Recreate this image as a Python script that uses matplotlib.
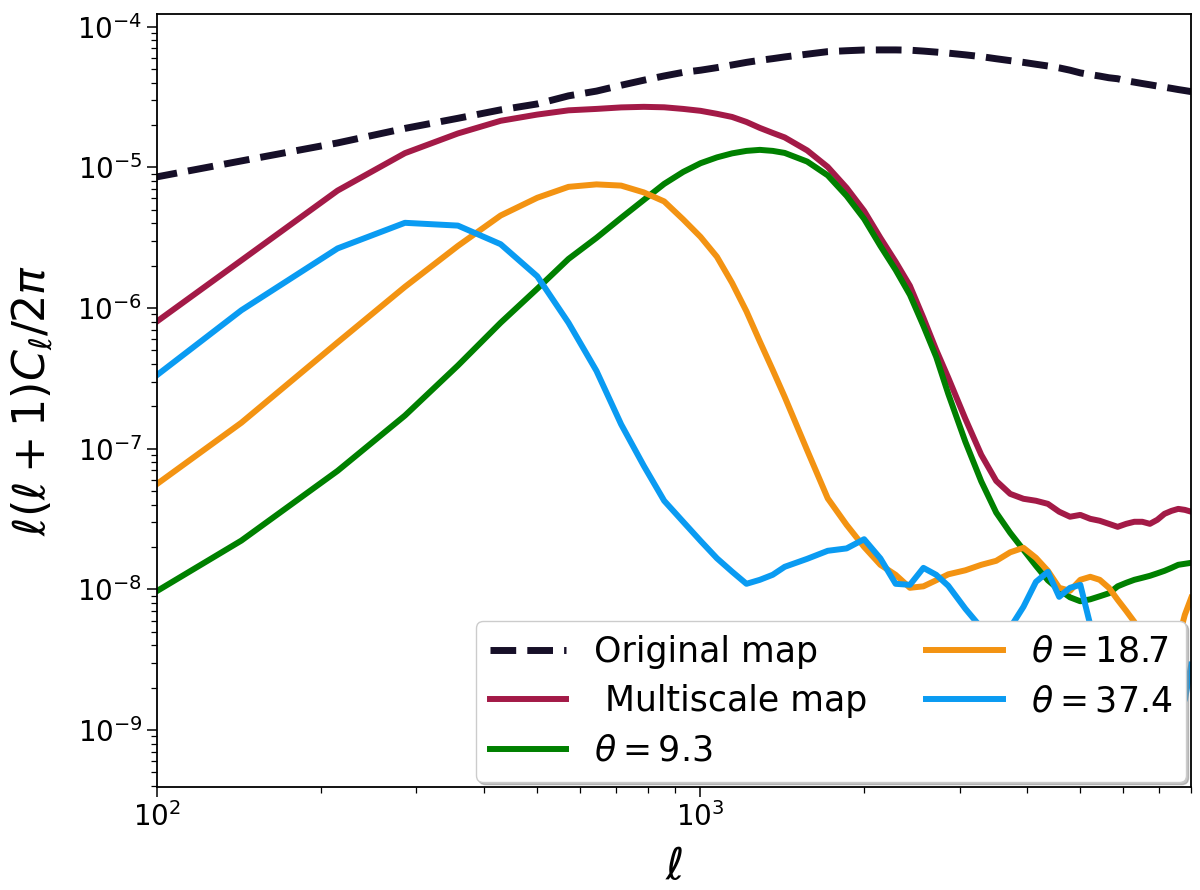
import numpy as np
import matplotlib
matplotlib.use("Agg")
import matplotlib.pyplot as plt

# multipole bins (bin width ~71.5), denser at low ell
ell = [72, 143, 215, 286, 358, 429, 501, 572, 644, 715,
       787, 858, 930, 1001, 1073, 1144, 1216, 1287, 1359, 1430,
       1573, 1716, 1859, 2002, 2145, 2288, 2431, 2574, 2717, 2860,
       3075, 3289, 3504, 3718, 3933, 4147, 4362, 4576, 4791, 5005,
       5220, 5434, 5649, 5863, 6078, 6292, 6507, 6721, 6936, 7150,
       7365, 7579, 7794, 8008]

original = [6.73e-6, 1.11e-5, 1.49e-5, 1.89e-5, 2.23e-5, 2.56e-5, 2.82e-5, 3.22e-5, 3.48e-5, 3.83e-5,
            4.16e-5, 4.46e-5, 4.73e-5, 4.90e-5, 5.11e-5, 5.34e-5, 5.57e-5, 5.76e-5, 5.92e-5, 6.09e-5,
            6.37e-5, 6.64e-5, 6.74e-5, 6.82e-5, 6.83e-5, 6.83e-5, 6.80e-5, 6.70e-5, 6.59e-5, 6.48e-5,
            6.30e-5, 6.12e-5, 5.91e-5, 5.73e-5, 5.57e-5, 5.40e-5, 5.25e-5, 5.09e-5, 4.90e-5, 4.69e-5,
            4.56e-5, 4.45e-5, 4.33e-5, 4.26e-5, 4.12e-5, 4.03e-5, 3.94e-5, 3.86e-5, 3.78e-5, 3.71e-5,
            3.64e-5, 3.57e-5, 3.51e-5, 3.45e-5]

multiscale = [3.20e-7, 2.18e-6, 6.83e-6, 1.26e-5, 1.74e-5, 2.14e-5, 2.37e-5, 2.54e-5, 2.60e-5, 2.665e-5,
              2.69e-5, 2.67e-5, 2.60e-5, 2.52e-5, 2.40e-5, 2.28e-5, 2.10e-5, 1.905e-5, 1.755e-5, 1.63e-5,
              1.318e-5, 1.006e-5, 7.14e-6, 4.90e-6, 3.15e-6, 2.13e-6, 1.436e-6, 8.50e-7, 5.04e-7, 3.19e-7,
              1.628e-7, 9.04e-8, 5.90e-8, 4.77e-8, 4.40e-8, 4.26e-8, 4.05e-8, 3.56e-8, 3.28e-8, 3.38e-8,
              3.17e-8, 3.07e-8, 2.92e-8, 2.78e-8, 2.92e-8, 3.02e-8, 3.02e-8, 2.92e-8, 3.12e-8, 3.44e-8,
              3.61e-8, 3.73e-8, 3.67e-8, 3.56e-8]

theta_9 = [4.55e-9, 2.22e-8, 6.95e-8, 1.718e-7, 3.90e-7, 7.85e-7, 1.369e-6, 2.23e-6, 3.15e-6, 4.37e-6,
           5.86e-6, 7.62e-6, 9.27e-6, 1.069e-5, 1.176e-5, 1.256e-5, 1.308e-5, 1.33e-5, 1.308e-5, 1.265e-5,
           1.098e-5, 8.76e-6, 6.26e-6, 4.30e-6, 2.76e-6, 1.866e-6, 1.239e-6, 7.46e-7, 4.49e-7, 2.45e-7,
           1.118e-7, 5.85e-8, 3.51e-8, 2.52e-8, 1.909e-8, 1.469e-8, 1.159e-8, 9.92e-9, 8.77e-9, 8.22e-9,
           8.49e-9, 8.92e-9, 9.37e-9, 1.05e-8, 1.112e-8, 1.168e-8, 1.207e-8, 1.247e-8, 1.299e-8, 1.353e-8,
           1.42e-8, 1.493e-8, 1.518e-8, 1.543e-8]

theta_18 = [2.23e-8, 1.528e-7, 5.69e-7, 1.413e-6, 2.76e-6, 4.54e-6, 6.07e-6, 7.26e-6, 7.56e-6, 7.41e-6,
            6.63e-6, 5.72e-6, 4.26e-6, 3.20e-6, 2.31e-6, 1.508e-6, 9.46e-7, 5.77e-7, 3.63e-7, 2.33e-7,
            9.72e-8, 4.43e-8, 2.87e-8, 2.00e-8, 1.493e-8, 1.268e-8, 1.025e-8, 1.05e-8, 1.159e-8, 1.278e-8,
            1.365e-8, 1.493e-8, 1.594e-8, 1.832e-8, 1.972e-8, 1.674e-8, 1.353e-8, 1.025e-8, 9.76e-9, 1.168e-8,
            1.227e-8, 1.168e-8, 1.025e-8, 8.42e-9, 7.03e-9, 5.87e-9, 4.38e-9, 3.42e-9, 2.91e-9, 2.77e-9,
            3.15e-9, 4.38e-9, 6.59e-9, 8.70e-9]

theta_37 = [1.256e-7, 9.63e-7, 2.65e-6, 4.03e-6, 3.85e-6, 2.84e-6, 1.68e-6, 7.85e-7, 3.57e-7, 1.488e-7,
            7.55e-8, 4.26e-8, 3.02e-8, 2.21e-8, 1.661e-8, 1.335e-8, 1.094e-8, 1.168e-8, 1.268e-8, 1.445e-8,
            1.647e-8, 1.878e-8, 1.953e-8, 2.27e-8, 1.658e-8, 1.094e-8, 1.076e-8, 1.42e-8, 1.268e-8, 1.059e-8,
            7.27e-9, 5.33e-9, 4.03e-9, 5.33e-9, 7.51e-9, 1.13e-8, 1.331e-8, 8.84e-9, 1.025e-8, 1.076e-8,
            5.59e-9, 3.15e-9, 1.93e-9, 1.39e-9, 1.18e-9, 1.28e-9, 1.64e-9, 1.93e-9, 1.64e-9, 1.28e-9,
            1.18e-9, 1.35e-9, 1.64e-9, 2.91e-9]

fig = plt.figure(figsize=(12, 8.9), dpi=100)
ax = fig.add_axes([0.1308, 0.1157, 0.8617, 0.8686])

ax.loglog(ell, original, ls='--', color='#160f28', lw=5, label='Original map')
ax.loglog(ell, multiscale, color='#a31a47', lw=4.3, label=' Multiscale map')
ax.loglog(ell, theta_9, color='green', lw=4.3, label=r'$\theta = 9.3$')
ax.loglog(ell, theta_18, color='#f39312', lw=4.3, label=r'$\theta = 18.7$')
ax.loglog(ell, theta_37, color='#0a9bf2', lw=4.3, label=r'$\theta = 37.4$')

ax.set_xlim(100, 8000)
ax.set_ylim(3.93e-10, 1.23e-4)

ax.set_xlabel(r'$\ell$', fontsize=32, labelpad=10)
ax.set_ylabel(r'$\ell(\ell+1)C_\ell/2\pi$', fontsize=32, labelpad=16)
ax.tick_params(which='major', labelsize=20, length=7, width=1.1)
ax.tick_params(which='minor', length=4, width=0.9)
for s in ax.spines.values():
    s.set_linewidth(1.3)

leg = ax.legend(loc='lower right', ncol=2, fontsize=25, handlelength=2.2,
                labelspacing=0.45, columnspacing=1.7, borderaxespad=0.15,
                shadow={'color': '0.55', 'alpha': 0.5}, framealpha=1)

fig.savefig('out.png', dpi=100)
